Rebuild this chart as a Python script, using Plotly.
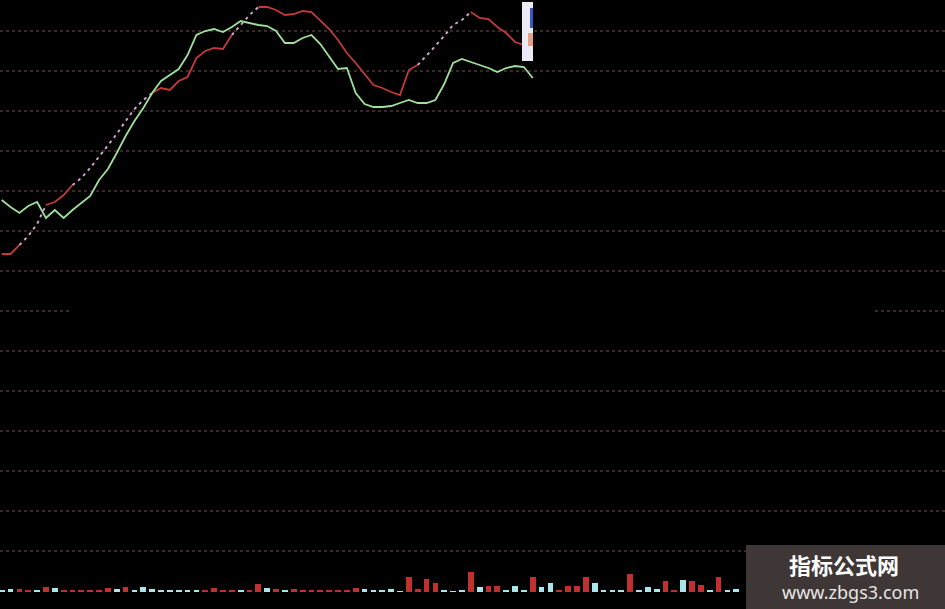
import plotly.graph_objects as go

# ---------------- data ----------------
idx = list(range(61))
green = [87.75, 86, 84.5, 86.25, 87.25, 83.25, 85.25, 83.25, 85.25, 87,
         88.75, 92.75, 95.5, 99.5, 103.75, 107.5, 110.75, 114.5, 117.5, 119,
         120.5, 124, 129, 130, 130.5, 129.75, 131, 132.5, 132, 131.5,
         131.25, 130, 127, 127, 128.25, 129, 126.75, 123.5, 120.5, 120.75,
         114.5, 111.75, 111, 111, 111.25, 112, 112.75, 112, 112, 112.75,
         116.75, 122, 123, 122.25, 121.5, 120.75, 119.75, 120.75, 121.25, 121,
         118.25]
red = [74.25, 74.25, 76.5, 78.75, 81.75, 86.5, 87.25, 89, 91.5, 93.25,
       95.75, 98.5, 101.25, 104.25, 107.5, 110.5, 112.75, 114.5, 115.75, 115.25,
       117.5, 118.5, 123.25, 125, 125.75, 125.5, 129, 131.5, 134, 136,
       136, 135.25, 134, 134.25, 135, 134.75, 132.5, 130.5, 127.75, 124.5,
       122, 119.25, 116.5, 115.75, 114.75, 114, 120.25, 121.5, 123.75, 126.25,
       128.75, 131.5, 132.75, 134.75, 133.25, 133, 131, 129.5, 127.25, 126.5,
       125.75]
# index runs where the red line is drawn as a pale dotted segment
red_dotted_runs = [(2, 5), (8, 17), (26, 29), (47, 53)]

vol = [2, 3, 3, 2, 2, 5, 4, 2, 2, 2, 2, 2, 4, 3, 5, 2, 5, 3, 2, 2,
       2, 2, 2, 2, 4, 2, 2, 2, 2, 8, 4, 3, 2, 3, 2, 2, 2, 2, 2, 2,
       4, 3, 2, 2, 3, 1, 15, 3, 13, 9, 2, 1, 2, 20, 5, 6, 6, 2, 6, 2,
       15, 5, 9, 2, 6, 6, 15, 9, 2, 2, 2, 18, 2, 5, 3, 11, 2, 12, 11, 7,
       2, 15, 2, 3]
vol_up = ["C", "C", "R", "R", "C", "R", "C", "R", "R", "R", "R", "R", "R", "C", "R", "C", "C", "C", "C", "C",
          "C", "C", "C", "R", "R", "R", "R", "C", "R", "R", "C", "R", "C", "R", "R", "R", "R", "R", "R", "R",
          "R", "C", "C", "C", "C", "C", "R", "R", "R", "R", "C", "C", "C", "R", "C", "R", "R", "C", "C", "C",
          "R", "C", "C", "R", "R", "R", "R", "C", "C", "C", "C", "R", "C", "C", "C", "R", "R", "C", "R", "R",
          "C", "R", "C", "C"]
grid_levels = [0, 10, 20, 30, 40, 50, 70, 80, 90, 100, 110, 120, 130]
partial_level = 60
watermark_title = "指标公式网"
watermark_url = "www.zbgs3.com"

# ---------------- build ----------------
BG = "#000000"
RED = "#c23a3a"
PINK = "#d6a6cf"
GREEN = "#9fe09a"
GRID = "#7a4c4c"

in_dot = [False] * len(idx)
for a, b in red_dotted_runs:
    for i in range(a + 1, b):
        in_dot[i] = True
red_solid = [None if in_dot[i] else red[i] for i in idx]
red_dot = [None] * len(idx)
for a, b in red_dotted_runs:
    for i in range(a, b + 1):
        red_dot[i] = red[i]

fig = go.Figure()
fig.add_trace(go.Bar(
    x=list(range(len(vol))), y=vol, yaxis="y2", width=0.65,
    marker=dict(color=["#c0302e" if c == "R" else "#a9e6ec" for c in vol_up], line=dict(width=0)),
    hoverinfo="skip"))
fig.add_trace(go.Scatter(x=idx, y=red_dot, mode="lines", connectgaps=False,
                         line=dict(color=PINK, width=1.9, dash="3px,4px")))
fig.add_trace(go.Scatter(x=idx, y=red_solid, mode="lines", connectgaps=False,
                         line=dict(color=RED, width=1.8)))
fig.add_trace(go.Scatter(x=idx, y=green, mode="lines",
                         line=dict(color=GREEN, width=1.8)))

shapes = []
for g in grid_levels:
    shapes.append(dict(type="line", xref="paper", yref="y", x0=0, x1=1, y0=g, y1=g,
                       line=dict(color=GRID, width=1, dash="3px,3px"), layer="below"))
for x0, x1 in [(0, 70 / 945), (875 / 945, 1)]:
    shapes.append(dict(type="line", xref="paper", yref="y", x0=x0, x1=x1,
                       y0=partial_level, y1=partial_level,
                       line=dict(color=GRID, width=1, dash="3px,3px"), layer="below"))
# small white marker box at the line end
shapes.append(dict(type="rect", xref="paper", yref="paper", x0=522 / 945, x1=533 / 945,
                   y0=1 - 61 / 609, y1=1 - 2 / 609, fillcolor="#ecebf5", line=dict(width=0)))
shapes.append(dict(type="rect", xref="paper", yref="paper", x0=530 / 945, x1=533 / 945,
                   y0=1 - 28 / 609, y1=1 - 8 / 609, fillcolor="#3a58c4", line=dict(width=0)))
shapes.append(dict(type="rect", xref="paper", yref="paper", x0=528 / 945, x1=533 / 945,
                   y0=1 - 46 / 609, y1=1 - 33 / 609, fillcolor="#e6a084", line=dict(width=0)))
# watermark box
shapes.append(dict(type="rect", xref="paper", yref="paper", x0=746 / 945, x1=1,
                   y0=0, y1=64 / 609, fillcolor="#3f3636", line=dict(width=0)))

annotations = [
    dict(text="<b>" + watermark_title + "</b>", xref="paper", yref="paper",
         x=844 / 945, y=1 - 564 / 609, showarrow=False, xanchor="center", yanchor="middle",
         font=dict(family="Noto Sans CJK SC", size=22, color="#ffffff")),
    dict(text=watermark_url, xref="paper", yref="paper",
         x=850 / 945, y=1 - 592 / 609, showarrow=False, xanchor="center", yanchor="middle",
         font=dict(family="Noto Sans", size=18, color="#e6e6e6")),
]

fig.update_layout(
    width=945, height=609, margin=dict(l=0, r=0, t=0, b=0),
    paper_bgcolor=BG, plot_bgcolor=BG, showlegend=False, bargap=0,
    xaxis=dict(range=[-0.192, 106.58], visible=False, fixedrange=True),
    yaxis=dict(range=[-14.5, 137.75], visible=False, fixedrange=True),
    yaxis2=dict(range=[-17, 592], overlaying="y", visible=False, fixedrange=True),
    shapes=shapes, annotations=annotations,
)

fig.write_html("out.html", config={"displayModeBar": False},
               post_script="document.body.style.margin='0';document.body.style.overflow='hidden';document.body.style.background='#000';")
